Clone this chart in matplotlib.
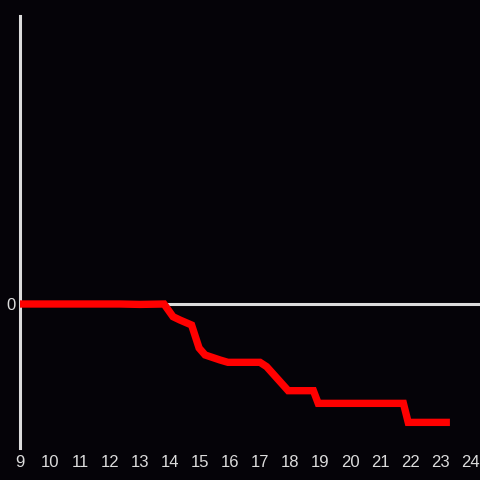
import matplotlib
matplotlib.use("Agg")
import matplotlib.pyplot as plt

hours = [9.0, 12.33, 13.0, 13.8, 14.1, 14.33, 14.72, 14.97, 15.17, 15.67, 15.93,
         17.0, 17.22, 17.94, 18.78, 18.94, 21.78, 21.94, 23.33]
values = [0.0, 0.0, -0.003, 0.0, -0.088, -0.111, -0.146, -0.306, -0.354, -0.389, -0.405,
          -0.405, -0.435, -0.602, -0.602, -0.690, -0.690, -0.822, -0.822]
xticks = list(range(9, 25))

bg = '#050308'
fg = '#dcdcdc'

fig = plt.figure(figsize=(4.8, 4.8), dpi=100, facecolor=bg)
ax = fig.add_axes([20/480, 32/480, 460/480, 432/480], facecolor=bg)

ax.axhline(0, color=fg, lw=2.2, zorder=1)
ax.plot(hours, values, color='#ff0000', lw=5.3, zorder=3, solid_joinstyle='miter', solid_capstyle='butt')

ax.set_xlim(9, 24.333)
ax.set_ylim(-1, 2)
ax.set_xticks(xticks)
ax.set_xticklabels([str(t) for t in xticks])
ax.set_yticks([0])
ax.set_yticklabels(['0'])

for s in ['top', 'right', 'bottom']:
    ax.spines[s].set_visible(False)
ax.spines['left'].set_color(fg)
ax.spines['left'].set_linewidth(2.2)

ax.tick_params(axis='both', length=0, colors=fg, labelsize=12)
ax.tick_params(axis='x', pad=5)
ax.tick_params(axis='y', pad=3)
for lab in ax.get_xticklabels() + ax.get_yticklabels():
    lab.set_fontfamily('Liberation Sans')

fig.savefig('out.png', dpi=100, facecolor=bg)
